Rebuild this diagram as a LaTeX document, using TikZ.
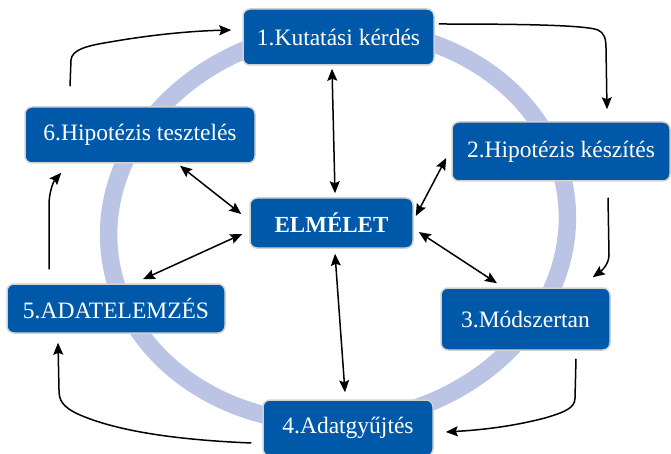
\documentclass[tikz,border=0pt]{standalone}
\usepackage{fontspec}
\setmainfont{Liberation Serif}
\usetikzlibrary{arrows.meta,calc}
\definecolor{boxblue}{HTML}{0059A8}
\definecolor{boxedge}{HTML}{D2D2D2}
\definecolor{ringblue}{HTML}{BBC4E5}
\tikzset{
  stepbox/.style={draw=boxedge, line width=1.5pt, fill=boxblue, rounded corners=7pt,
    text=white, font=\fontsize{23.5}{28}\selectfont, inner sep=0pt, anchor=center},
  conn/.style={draw=black, line width=1.5pt, -{Stealth[length=12pt,width=10pt,inset=2pt]}},
  dconn/.style={draw=black, line width=1.5pt, {Stealth[length=12pt,width=10pt,inset=2pt]}-{Stealth[length=12pt,width=10pt,inset=2pt]}},
  ring/.style={draw=ringblue, line width=17.5pt}
}
\begin{document}
\begin{tikzpicture}[x=1pt,y=1pt]
\useasboundingbox (0,0) rectangle (671,-454);
% ring
\draw[ring, rotate around={8:(338,-226)}] (338,-226) ellipse [x radius=230pt, y radius=196pt];
% boxes
\node[stepbox, minimum width=191pt, minimum height=56pt] (n1) at (338.5,-37) {1.Kutatási kérdés};
\node[stepbox, minimum width=218pt, minimum height=59pt] (n2) at (561,-151.5) {2.Hipotézis készítés};
\node[stepbox, minimum width=169pt, minimum height=62pt] (n3) at (525.5,-319) {3.Módszertan};
\node[stepbox, minimum width=170pt, minimum height=56pt] (n4) at (348,-428) {4.Adatgyűjtés};
\node[stepbox, minimum width=218pt, minimum height=49pt] (n5) at (116,-308.5) {5.ADATELEMZÉS};
\node[stepbox, minimum width=230pt, minimum height=56pt] (n6) at (140,-135) {6.Hipotézis tesztelés};
\node[stepbox, minimum width=163pt, minimum height=50pt, font=\fontsize{23}{28}\selectfont\bfseries] (el) at (331.5,-223) {ELMÉLET};
% double arrows to ELMELET
\draw[dconn] ([shift={(-6.5,-3)}]n1.south) -- ([shift={(3.5,4)}]el.north);
\draw[dconn] ([shift={(-5,-6.5)}]n2.west) -- ([shift={(2,7)}]el.east);
\draw[dconn] ([shift={(5,-9)}]el.east) -- ([shift={(-28.5,4)}]n3.north);
\draw[dconn] ([shift={(3.5,-5)}]el.south) -- ([shift={(-3,7)}]n4.north);
\draw[dconn] ([shift={(-7,-11)}]el.west) -- ([shift={(27,4)}]n5.north);
\draw[dconn] ([shift={(40,-2)}]n6.south) -- ([shift={(-8,9)}]el.west);
% cycle arrows
\draw[conn] ([shift={(-70,20)}]n6.north) -- (71,-60) .. controls (72,-50) and (85,-46) .. (110,-42) .. controls (150,-35) and (190,-31) .. ([shift={(-11,7)}]n1.west);
\draw[conn] ([shift={(4,13)}]n1.east) .. controls (520,-24) and (585,-25) .. (598,-30) .. controls (604,-33) and (606,-38) .. (606,-48) -- ([shift={(46,12)}]n2.north);
\draw[conn] ([shift={(47,-16)}]n2.south) -- (609,-255) .. controls (609,-265) and (600,-272) .. ([shift={(-18,10)}]n3.north east);
\draw[conn] ([shift={(50.5,-8)}]n3.south) -- (575,-398) .. controls (575,-408) and (565,-412) .. (545,-418) .. controls (510,-427) and (480,-430) .. ([shift={(12,-4)}]n4.east);
\draw[conn] ([shift={(-11,-15)}]n4.west) .. controls (180,-440) and (120,-432) .. (80,-415) .. controls (62,-407) and (59,-400) .. (59,-390) -- ([shift={(-58,-9)}]n5.south);
\draw[conn] ([shift={(-67,14)}]n5.north) -- (49,-205) .. controls (49,-193) and (53,-182) .. ([shift={(37,-9)}]n6.south west);
\end{tikzpicture}
\end{document}
